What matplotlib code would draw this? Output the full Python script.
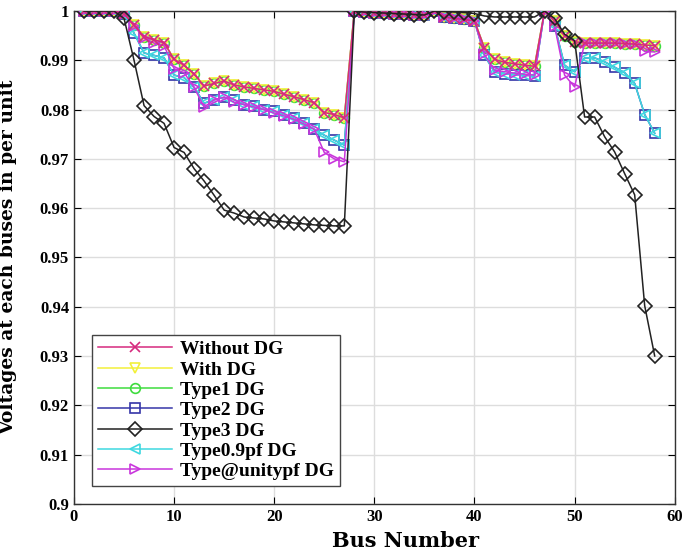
import matplotlib
matplotlib.use("Agg")
import matplotlib.pyplot as plt
import numpy as np

buses = list(range(1, 59))

# Common part for buses 28-40
common_28_40 = [1.0, 0.9998, 0.9997, 0.9996, 0.9995, 0.9994, 0.9993, 0.9992, 1.0,
                0.9988, 0.9985, 0.9983, 0.998]

type1_dg = ([1.0, 1.0, 1.0, 1.0, 0.9995, 0.9972, 0.9948, 0.9942, 0.9936, 0.9902,
             0.989, 0.9872, 0.9848, 0.9853, 0.9858, 0.985, 0.9846, 0.9843, 0.984, 0.9837,
             0.9831, 0.9826, 0.982, 0.9814, 0.9794, 0.979, 0.9783]
            + common_28_40
            + [0.9925, 0.9902, 0.9896, 0.9893, 0.989, 0.9888, 1.0, 0.998, 0.995, 0.9938,
               0.9935, 0.9935, 0.9935, 0.9935, 0.9934, 0.9933, 0.9931, 0.993])

without_dg = list(type1_dg)
with_dg = list(type1_dg)

type2_dg = ([1.0, 1.0, 1.0, 1.0, 0.9995, 0.9955, 0.9915, 0.991, 0.9905, 0.987,
             0.9865, 0.9845, 0.9813, 0.982, 0.9825, 0.982, 0.981, 0.9807, 0.98, 0.9797,
             0.979, 0.9782, 0.9772, 0.976, 0.9748, 0.9738, 0.9728]
            + common_28_40
            + [0.991, 0.9876, 0.9873, 0.9871, 0.987, 0.9868, 1.0, 0.997, 0.989, 0.9877,
               0.9905, 0.9905, 0.9897, 0.9886, 0.9875, 0.9853, 0.979, 0.9752])

type09pf_dg = list(type2_dg)

typeunity_dg = ([1.0, 1.0, 1.0, 1.0, 0.9995, 0.997, 0.9945, 0.9935, 0.993, 0.9883,
                 0.9875, 0.9845, 0.9805, 0.982, 0.9825, 0.9815, 0.981, 0.9805, 0.98, 0.9793,
                 0.9787, 0.978, 0.977, 0.976, 0.9713, 0.970, 0.9694]
                + common_28_40
                + [0.9912, 0.988, 0.9877, 0.9874, 0.9872, 0.987, 1.0, 0.997, 0.987, 0.9846,
                   0.9935, 0.9935, 0.9935, 0.9935, 0.9934, 0.9933, 0.9918, 0.9917])

type3_dg = ([1.0, 1.0, 1.0, 1.0, 0.9985, 0.990, 0.9808, 0.9786, 0.9772, 0.9723,
             0.9713, 0.968, 0.9655, 0.9626, 0.9596, 0.959, 0.9582, 0.958, 0.9578, 0.9574,
             0.9572, 0.957, 0.9568, 0.9566, 0.9565, 0.9564, 0.9564]
            + [1.0, 0.9998, 0.9997, 0.9996, 0.9995, 0.9994, 0.9993, 0.9992, 1.0,
               0.9999, 0.9998, 0.9997, 0.9995]
            + [0.999, 0.9988, 0.9988, 0.9988, 0.9988, 0.9988, 1.0, 0.9985, 0.9953, 0.994,
               0.9785, 0.9785, 0.9745, 0.9714, 0.967, 0.9627, 0.9402, 0.930])

series = [
    ("Without DG", without_dg, "#d62a7e", "x", 5),
    ("With DG", with_dg, "#f2f03a", "v", 3),
    ("Type1 DG", type1_dg, "#3fdc3f", "o", 2),
    ("Type2 DG", type2_dg, "#3535a8", "s", 2),
    ("Type3 DG", type3_dg, "#222222", "D", 6),
    ("Type0.9pf DG", type09pf_dg, "#3fd8e0", "<", 3),
    ("Type@unitypf DG", typeunity_dg, "#c936dc", ">", 4),
]

serif = ["Liberation Serif", "DejaVu Serif"]
plt.rcParams["font.family"] = serif

fig = plt.figure(figsize=(6.85, 5.53), dpi=100)
ax = fig.add_axes([0.108, 0.089, 0.877, 0.891])

for label, vals, color, marker, z in series:
    ax.plot(buses, vals, color=color, marker=marker, markersize=7,
            markerfacecolor="none", markeredgecolor=color, markeredgewidth=1.2,
            linewidth=1.1, label=label, zorder=z)

ax.set_xlim(0, 60)
ax.set_ylim(0.9, 1.0)
ax.set_xticks(np.arange(0, 61, 10))
ax.set_yticks(np.round(np.arange(0.9, 1.0001, 0.01), 2))
ax.set_yticklabels(["0.9", "0.91", "0.92", "0.93", "0.94", "0.95", "0.96",
                    "0.97", "0.98", "0.99", "1"])
ax.grid(True, color="#dddddd", linewidth=1.0)
ax.set_axisbelow(True)
ax.tick_params(direction="in", length=5, labelsize=12, top=True, right=True,
               labeltop=False, labelright=False)
for lab in ax.get_xticklabels() + ax.get_yticklabels():
    lab.set_fontweight("bold")
for sp in ax.spines.values():
    sp.set_color("#333333")
    sp.set_linewidth(1.0)

label_font = ["DejaVu Serif"]
ax.set_xlabel("Bus Number", fontsize=15, fontweight="bold", family=label_font)
ax.xaxis.set_label_coords(0.552, -0.056)
ax.set_ylabel("Voltages at each buses in per unit", fontsize=13.5, fontweight="bold",
              family=label_font)
ax.yaxis.set_label_coords(-0.094, 0.5)

leg = ax.legend(loc="upper left", bbox_to_anchor=(0.030, 0.343), borderaxespad=0,
                prop={"weight": "bold", "size": 14, "family": serif},
                handlelength=3.8, handletextpad=0.45, labelspacing=0.14,
                borderpad=0.3, fancybox=False, framealpha=1, edgecolor="#444444")
leg.get_frame().set_linewidth(1.0)

fig.savefig("out.png", dpi=100)
